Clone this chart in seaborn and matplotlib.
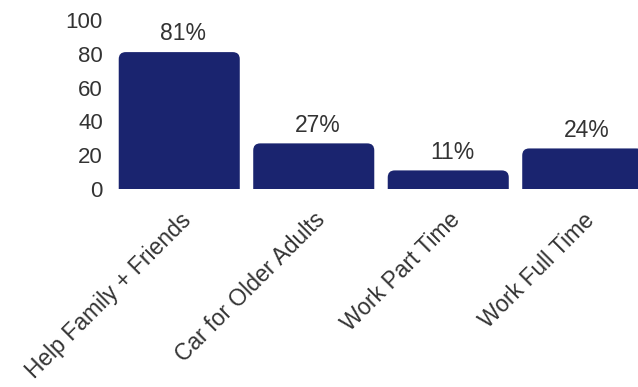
import matplotlib
matplotlib.use("Agg")
import matplotlib.pyplot as plt
import seaborn as sns
import pandas as pd
from matplotlib.patches import FancyBboxPatch

categories = ["Help Family + Friends", "Car for Older Adults", "Work Part Time", "Work Full Time"]
values = [81, 27, 11, 24]
value_labels = ["81%", "27%", "11%", "24%"]
yticks = [0, 20, 40, 60, 80, 100]

sns.set_style("white")
plt.rcParams['font.family'] = ['Liberation Sans', 'DejaVu Sans']

W, H = 638, 387
fig = plt.figure(figsize=(W / 100, H / 100), dpi=100)
ax = fig.add_axes([112 / W, 1 - 189 / H, 1 - 112 / W, (189 - 20) / H])

df = pd.DataFrame({"cat": categories, "val": values})
BAR = "#1a246f"
TXT = "#333333"
sns.barplot(data=df, x="cat", y="val", color=BAR, width=0.9, saturation=1, ax=ax)

ax.set_xlim(-0.5, (638 - 112) / 134.5 - 0.5)
ax.set_ylim(0, 100)
fig.canvas.draw()

# rounded tops
x_per_px = (ax.get_xlim()[1] - ax.get_xlim()[0]) / (ax.bbox.width)
y_per_px = (ax.get_ylim()[1] - ax.get_ylim()[0]) / (ax.bbox.height)
r_px = 7
aspect = y_per_px / x_per_px
for p in list(ax.patches):
    x0, w, h = p.get_x(), p.get_width(), p.get_height()
    p.set_visible(False)
    fb = FancyBboxPatch((x0, -10), w, h + 10,
                        boxstyle=f"round,pad=0,rounding_size={r_px * x_per_px}",
                        mutation_aspect=aspect, facecolor=BAR, edgecolor="none",
                        clip_on=True)
    ax.add_patch(fb)

for i, (v, lab) in enumerate(zip(values, value_labels)):
    ax.text(i + 0.03, v + 4, lab, ha="center", va="bottom", fontsize=16.5, color=TXT)

ax.set_yticks(yticks)
ax.set_yticklabels([str(t) for t in yticks], fontsize=16, color=TXT)
ax.set_xticks(range(len(categories)))
ax.set_xticklabels(categories, rotation=45, ha="right", rotation_mode="anchor",
                   fontsize=16.5, color=TXT)
ax.tick_params(axis="both", length=0)
ax.tick_params(axis="y", pad=6.5)
ax.tick_params(axis="x", pad=14)
ax.set_xlabel("")
ax.set_ylabel("")
for s in ax.spines.values():
    s.set_visible(False)

fig.savefig("out.png", dpi=100)
